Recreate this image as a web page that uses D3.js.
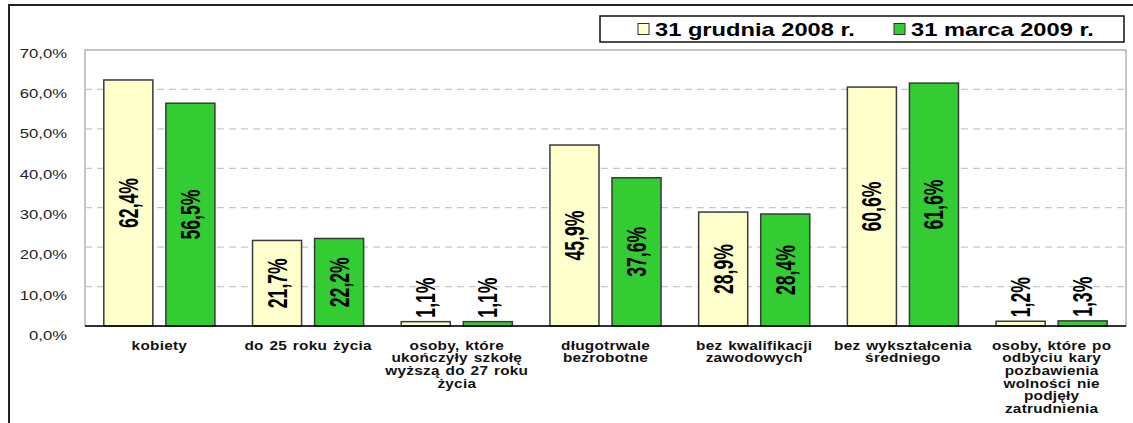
<!DOCTYPE html>
<html><head><meta charset="utf-8">
<script src="https://cdn.jsdelivr.net/npm/d3@7"></script>
<style>body{margin:0;background:#fff;} svg{display:block;}</style>
</head><body>
<svg id="chart" width="1133" height="423"></svg>
<script>
const categories = [
  ["kobiety"],
  ["do 25 roku życia"],
  ["osoby, które", "ukończyły  szkołę", "wyższą do 27 roku", "życia"],
  ["długotrwale", "bezrobotne"],
  ["bez kwalifikacji", "zawodowych"],
  ["bez wykształcenia", "średniego"],
  ["osoby, które po", "odbyciu kary", "pozbawienia", "wolności nie", "podjęły", "zatrudnienia"]
];
const seriesNames = ["31 grudnia 2008 r.", "31 marca 2009 r."];
const dec2008 = [62.4, 21.7, 1.1, 45.9, 28.9, 60.6, 1.2];
const mar2009 = [56.5, 22.2, 1.1, 37.6, 28.4, 61.6, 1.3];
const yTicks = [0, 10, 20, 30, 40, 50, 60, 70];
const colors = ["#FFFFCC", "#33CC33"];

const fmt = v => v.toFixed(1).replace(".", ",") + "%";
const SX = 1.28; // horizontal stretch of the original rendering

const svg = d3.select("#chart");
const L = 85, R = 1126, T = 50, B = 326;

// outer frame (left + top only)
svg.append("line").attr("x1", 9).attr("y1", 5).attr("x2", 1133).attr("y2", 5)
  .attr("stroke", "#222").attr("stroke-width", 2);
svg.append("line").attr("x1", 9).attr("y1", 4).attr("x2", 9).attr("y2", 423)
  .attr("stroke", "#222").attr("stroke-width", 2);

const y = d3.scaleLinear().domain([0, 70]).range([B, T]);
const yLab = d3.scaleLinear().domain([0, 70]).range([B + 9, T + 3]);
const idx = d3.range(categories.length);
const x0 = d3.scaleBand().domain(idx).range([L, R]).padding(0);
const x1 = d3.scaleBand().domain([0, 1]).range([0, x0.bandwidth()])
  .paddingInner(13 / 62).paddingOuter(0.303);

// plot area border
svg.append("rect").attr("x", L).attr("y", T).attr("width", R - L).attr("height", B - T)
  .attr("fill", "none").attr("stroke", "#b4b4b4").attr("stroke-width", 1.5);

// gridlines
svg.append("g").selectAll("line").data(yTicks.filter(t => t > 0 && t < 70)).join("line")
  .attr("x1", L).attr("x2", R).attr("y1", d => y(d)).attr("y2", d => y(d))
  .attr("stroke", "#c8c8c8").attr("stroke-width", 1.2).attr("stroke-dasharray", "7,5");

// y tick labels
svg.append("g").selectAll("text").data(yTicks).join("text")
  .attr("transform", d => `translate(67,${yLab(d)}) scale(${SX},1)`)
  .attr("text-anchor", "end").attr("dominant-baseline", "central")
  .attr("font-family", "Liberation Sans, Arial, sans-serif").attr("font-size", 13)
  .attr("fill", "#222").text(d => fmt(d));

// bars
const series = [dec2008, mar2009];
series.forEach((vals, s) => {
  const g = svg.append("g");
  g.selectAll("rect").data(vals).join("rect")
    .attr("x", (d, i) => x0(i) + x1(s))
    .attr("y", d => y(d))
    .attr("width", x1.bandwidth())
    .attr("height", d => B - y(d))
    .attr("fill", colors[s]).attr("stroke", "#3a3a3a").attr("stroke-width", 1.5);
  // value labels
  g.selectAll("text").data(vals).join("text")
    .each(function(d, i) {
      const cx = x0(i) + x1(s) + x1.bandwidth() / 2;
      const h = B - y(d);
      const t = d3.select(this);
      if (h > 60) {
        t.attr("transform", `translate(${cx},${(y(d) + B) / 2}) rotate(-90) scale(0.82,${SX})`)
          .attr("text-anchor", "middle");
      } else {
        t.attr("transform", `translate(${cx},${y(d) - 4}) rotate(-90) scale(0.82,${SX})`)
          .attr("text-anchor", "start");
      }
    })
    .attr("dominant-baseline", "central")
    .attr("font-family", "Liberation Sans, Arial, sans-serif").attr("font-weight", "bold")
    .attr("font-size", 21.5).attr("fill", "#000").text(d => fmt(d));
});

// x axis baseline
svg.append("line").attr("x1", L).attr("x2", R).attr("y1", B).attr("y2", B)
  .attr("stroke", "#000").attr("stroke-width", 1.5);

// category labels
const cg = svg.append("g");
categories.forEach((lines, i) => {
  const cx = x0(i) + x0.bandwidth() / 2;
  lines.forEach((ln, j) => {
    cg.append("text")
      .attr("transform", `translate(${cx},${349.5 + j * 12.7}) scale(${SX},1)`)
      .attr("text-anchor", "middle")
      .attr("font-family", "Liberation Sans, Arial, sans-serif").attr("font-weight", "bold")
      .attr("font-size", 12).attr("letter-spacing", 0.2).attr("word-spacing", 1)
      .attr("fill", "#111").text(ln);
  });
});

// legend
const lg = svg.append("g");
lg.append("rect").attr("x", 600).attr("y", 16).attr("width", 524).attr("height", 26)
  .attr("fill", "#fff").attr("stroke", "#111").attr("stroke-width", 1.5);
const legX = [638, 894];
seriesNames.forEach((name, s) => {
  lg.append("rect").attr("x", legX[s]).attr("y", 23.5).attr("width", 11).attr("height", 11)
    .attr("fill", colors[s]).attr("stroke", "#333").attr("stroke-width", 1);
  lg.append("text")
    .attr("transform", `translate(${legX[s] + 17},36) scale(${SX},1)`)
    .attr("font-family", "Liberation Sans, Arial, sans-serif").attr("font-weight", "bold")
    .attr("font-size", 18.5).attr("fill", "#000").text(name);
});
</script>
</body></html>
